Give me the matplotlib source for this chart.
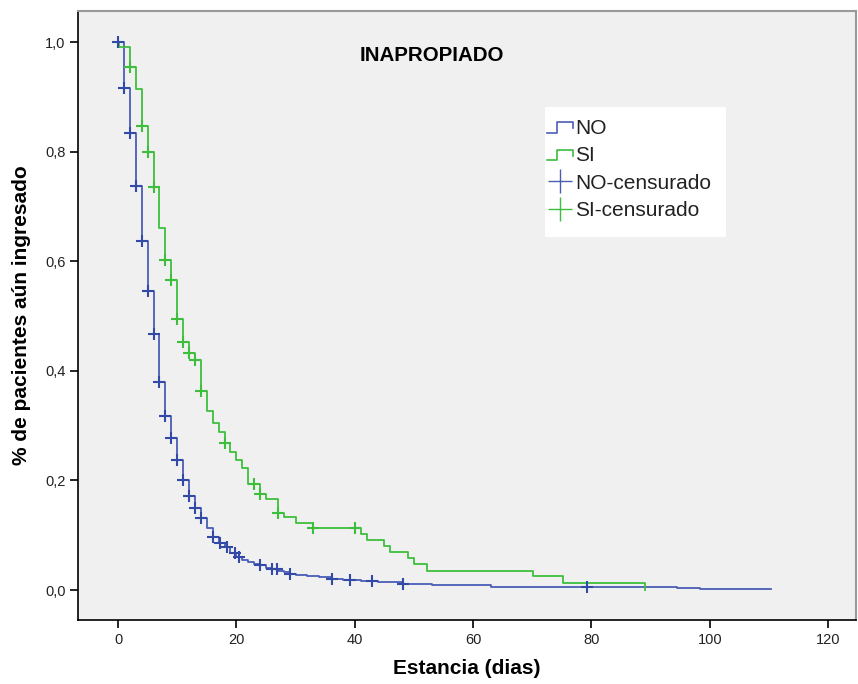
# Curvas de Kaplan-Meier: estancia de pacientes, grupo INAPROPIADO

import numpy as np
from matplotlib import pyplot as plt
from matplotlib.legend_handler import HandlerBase
from matplotlib.lines import Line2D
from matplotlib.patches import Rectangle

plt.rcParams['font.family'] = ['Liberation Sans', 'DejaVu Sans']

# grupo NO: tiempos de cambio (dias) y supervivencia despues del cambio
no_t = [0, 1, 2, 3, 4, 5, 6, 7, 8, 9, 10, 11, 12, 13, 14, 15, 16, 17, 18, 19,
        20, 21, 22, 23, 24, 25, 26, 27, 28, 29, 30, 32, 34, 36, 38, 41, 44, 48,
        53, 58, 63, 94.4, 98.4]
no_s = [1.0, 0.917, 0.834, 0.738, 0.637, 0.546, 0.467, 0.380, 0.318, 0.278,
        0.237, 0.200, 0.172, 0.150, 0.131, 0.113, 0.097, 0.086, 0.078, 0.068,
        0.060, 0.055, 0.051, 0.048, 0.045, 0.041, 0.038, 0.035, 0.032, 0.030,
        0.028, 0.026, 0.023, 0.020, 0.018, 0.016, 0.014, 0.011, 0.0095, 0.0086,
        0.006, 0.0037, 0.0024]
no_fin = 110.4
no_cens = [0, 1, 2, 3, 4, 5, 6, 7, 8, 9, 10, 11, 12, 13, 14, 16, 17.2, 18.4,
           19.7, 20.5, 24, 26.1, 26.8, 29.1, 36.1, 39.2, 43, 48.1, 79.2]

# grupo SI
si_t = [0, 0.2, 2, 3, 4, 5, 6, 7, 8, 9, 10, 11, 12, 13, 14, 15, 16, 17, 18,
        19, 20, 21, 22, 24, 25, 27, 28, 30, 33, 41, 42, 45, 46, 49, 50, 52.2,
        70.2, 75.2, 89]
si_s = [1.0, 0.991, 0.955, 0.914, 0.847, 0.799, 0.736, 0.661, 0.603, 0.566,
        0.494, 0.453, 0.432, 0.420, 0.363, 0.327, 0.304, 0.289, 0.268, 0.252,
        0.237, 0.222, 0.193, 0.176, 0.167, 0.140, 0.133, 0.122, 0.1125, 0.102,
        0.091, 0.080, 0.069, 0.058, 0.047, 0.035, 0.0255, 0.0133, 0.0]
si_fin = 89
si_cens = [2, 4, 5, 6, 8, 9, 10, 11, 12, 13, 14, 18, 23, 24, 27, 33, 40]

azul = '#4a5db6'
azul_osc = '#3249a8'
verde = '#3dbf3d'


def valor_en(tiempos, surv, t):
    i = np.searchsorted(tiempos, t, side='right') - 1
    return surv[i]


class HandlerEscalon(HandlerBase):
    def create_artists(self, legend, orig, xd, yd, w, h, fontsize, trans):
        xs = [-xd, -xd + 0.4 * w, -xd + 0.4 * w, -xd + w, -xd + w]
        ys = [-yd + 0.1 * h, -yd + 0.1 * h, -yd + 0.8 * h, -yd + 0.8 * h, -yd + 0.4 * h]
        l = Line2D(xs, ys, color=orig.get_color(), lw=1.2, transform=trans)
        return [l]


fig = plt.figure(figsize=(8.58, 6.84), dpi=100)
ax = fig.add_axes([78 / 858, 64 / 684, 778 / 858, 609 / 684])
ax.set_facecolor('#f0f0f0')

grupos = [(no_t, no_s, no_fin, no_cens, azul, azul_osc),
          (si_t, si_s, si_fin, si_cens, verde, verde)]
for t, s, fin, cens, c, cm in grupos:
    tx = list(t) + [fin]
    sx = list(s) + [s[-1]]
    ax.step(tx, sx, where='post', color=c, lw=1.3, zorder=3)
    cv = [valor_en(np.array(t), np.array(s), ci) for ci in cens]
    ax.plot(cens, cv, ls='none', marker='+', ms=9, mew=1.5, color=cm, zorder=4)

ax.set_xlim(-6.76, 124.7)
ax.set_ylim(-0.0547, 1.0566)
ax.set_xticks([0, 20, 40, 60, 80, 100, 120])
ax.set_yticks([0.0, 0.2, 0.4, 0.6, 0.8, 1.0])
ax.set_yticklabels(['0,0', '0,2', '0,4', '0,6', '0,8', '1,0'])
ax.tick_params(direction='out', length=6, width=1.2, labelsize=10.5, colors='black', pad=3)
for lb in ax.get_xticklabels() + ax.get_yticklabels():
    lb.set_color('#222222')

for lado in ['left', 'bottom']:
    ax.spines[lado].set_color('black')
    ax.spines[lado].set_linewidth(1.2)
for lado in ['top', 'right']:
    ax.spines[lado].set_color('#999999')
    ax.spines[lado].set_linewidth(1.5)

ax.set_xlabel('Estancia (dias)', fontsize=15, fontweight='bold', labelpad=9)
ax.set_ylabel('% de pacientes aún ingresado', fontsize=15, fontweight='bold', labelpad=10)
ax.text(0.455, 0.927, 'INAPROPIADO', transform=ax.transAxes, ha='center', va='center',
        fontsize=14.8, fontweight='bold')

# recuadro blanco de la leyenda
fig.patches.append(Rectangle((545 / 858, 1 - 237 / 684), 181 / 858, 130 / 684,
                             transform=fig.transFigure, facecolor='white',
                             edgecolor='none', zorder=5))

h_no = Line2D([], [], color=azul)
h_si = Line2D([], [], color=verde)
h_noc = Line2D([], [], color=azul, marker='+', ms=17, mew=1.0, lw=0)
h_sic = Line2D([], [], color=verde, marker='+', ms=17, mew=1.0, lw=0)
leg = fig.legend([h_no, h_si, h_noc, h_sic], ['NO', 'SI', 'NO-censurado', 'SI-censurado'],
                 loc='upper left', bbox_to_anchor=(547 / 858, 1 - 119 / 684),
                 handler_map={h_no: HandlerEscalon(), h_si: HandlerEscalon()},
                 fontsize=15, frameon=False, handlelength=1.25, handletextpad=0.12,
                 borderpad=0, labelspacing=0.4, borderaxespad=0)
leg.set_zorder(6)
for tx in leg.get_texts():
    tx.set_color('#222222')

fig.savefig('out.png', dpi=100)
